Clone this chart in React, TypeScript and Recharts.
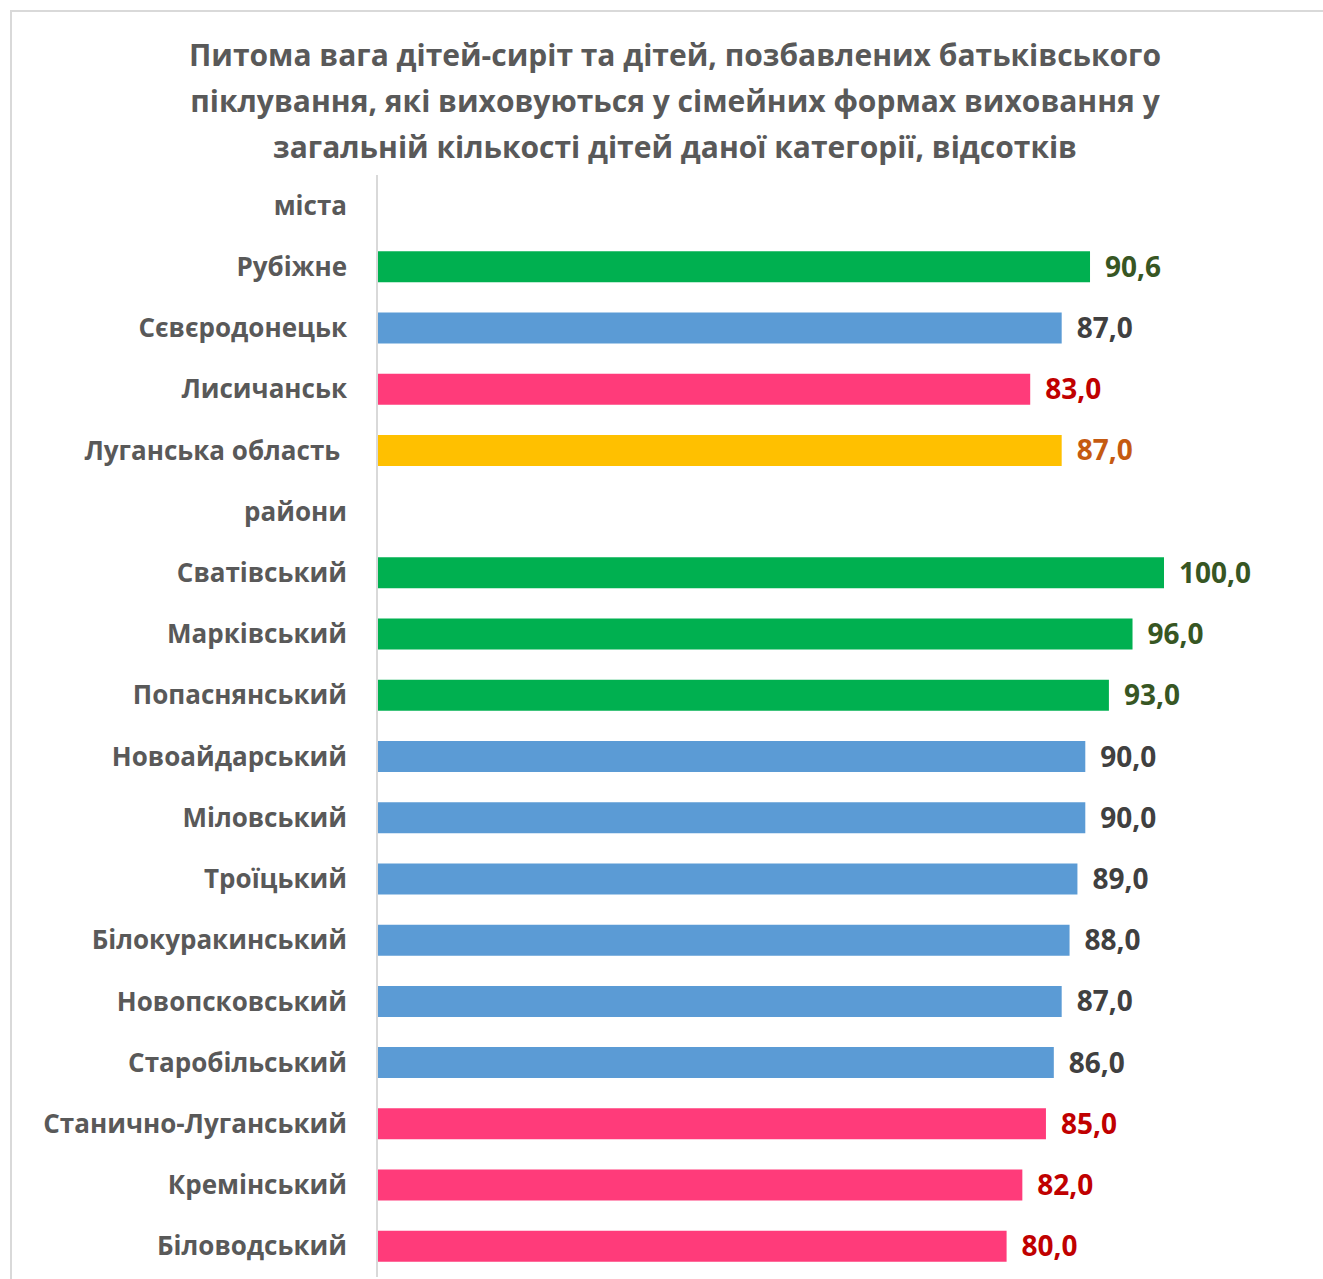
import { BarChart, Bar, XAxis, YAxis, LabelList } from "recharts";

const categories = [
  "міста",
  "Рубіжне",
  "Сєвєродонецьк",
  "Лисичанськ",
  "Луганська область ",
  "райони",
  "Сватівський",
  "Марківський",
  "Попаснянський",
  "Новоайдарський",
  "Міловський",
  "Троїцький",
  "Білокуракинський",
  "Новопсковський",
  "Старобільський",
  "Станично-Луганський",
  "Кремінський",
  "Біловодський",
];

const shares: (number | null)[] = [
  null, 90.6, 87.0, 83.0, 87.0, null, 100.0, 96.0, 93.0, 90.0, 90.0, 89.0, 88.0, 87.0, 86.0, 85.0, 82.0, 80.0,
];

// group of each row: high / mid / low / region / header
const groups = [
  "header", "high", "mid", "low", "region", "header", "high", "high", "high",
  "mid", "mid", "mid", "mid", "mid", "mid", "low", "low", "low",
];

const titleLines = [
  "Питома вага дітей-сиріт та дітей, позбавлених батьківського",
  "піклування, які виховуються у сімейних формах виховання у",
  "загальній кількості дітей даної категорії, відсотків",
];

const seriesKeys = ["high", "mid", "low", "region"];

const barColor: Record<string, string> = {
  high: "#00B050",
  mid: "#5B9BD5",
  low: "#FF3B7A",
  region: "#FFC000",
};

const labelColor: Record<string, string> = {
  high: "#375623",
  mid: "#404040",
  low: "#C00000",
  region: "#C55A11",
};

// one column per group so every series keeps its own colour
const data = categories.map((name, i) => {
  const row: Record<string, any> = { name };
  if (shares[i] != null) row[groups[i]] = shares[i];
  return row;
});

const FONT = "'Open Sans', 'DejaVu Sans', sans-serif";

function CategoryTick({ x, y, payload }: any) {
  return (
    <text
      x={x}
      y={y}
      dy="0.35em"
      textAnchor="end"
      fill="#595959"
      fontFamily={FONT}
      fontWeight={700}
      fontSize={26}
      style={{ whiteSpace: "pre" }}
    >
      {payload.value}
    </text>
  );
}

const makeLabel = (color: string) =>
  function ValueLabel({ x, y, width, height, value }: any) {
    if (value == null || typeof value !== "number") return null;
    return (
      <text
        x={x + width + 15}
        y={y + height / 2}
        dy="0.36em"
        textAnchor="start"
        fill={color}
        fontFamily={FONT}
        fontWeight={700}
        fontSize={28}
      >
        {value.toFixed(1).replace(".", ",")}
      </text>
    );
  };

export default function App() {
  return (
    <div
      style={{
        position: "fixed",
        left: 0,
        top: 0,
        width: 1323,
        height: 1279,
        overflow: "hidden",
        background: "#fff",
      }}
    >
      <div
        style={{
          position: "absolute",
          left: 10,
          top: 10,
          width: 1400,
          height: 1400,
          borderTop: "2px solid #d9d9d9",
          borderLeft: "2px solid #d9d9d9",
        }}
      />
      <div
        style={{
          position: "absolute",
          left: 10,
          top: 32,
          width: 1330,
          textAlign: "center",
          fontFamily: FONT,
          fontWeight: 700,
          fontSize: 30,
          lineHeight: "46px",
          color: "#595959",
        }}
      >
        {titleLines.map((l) => (
          <div key={l}>{l}</div>
        ))}
      </div>
      <div style={{ position: "absolute", left: 0, top: 0 }}>
        <BarChart
          width={1323}
          height={1279}
          data={data}
          layout="vertical"
          margin={{ top: 175, right: 159, bottom: 2, left: 0 }}
        >
          <XAxis type="number" domain={[0, 100]} hide />
          <YAxis
            type="category"
            dataKey="name"
            width={377}
            axisLine={{ stroke: "#d9d9d9", strokeWidth: 2 }}
            tickLine={false}
            tickSize={0}
            tickMargin={30}
            interval={0}
            tick={<CategoryTick />}
          />
          {seriesKeys.map((k) => {
            const Label = makeLabel(labelColor[k]);
            return (
              <Bar key={k} dataKey={k} stackId="a" fill={barColor[k]} barSize={31} isAnimationActive={false}>
                <LabelList dataKey={k} content={<Label />} />
              </Bar>
            );
          })}
        </BarChart>
      </div>
    </div>
  );
}
